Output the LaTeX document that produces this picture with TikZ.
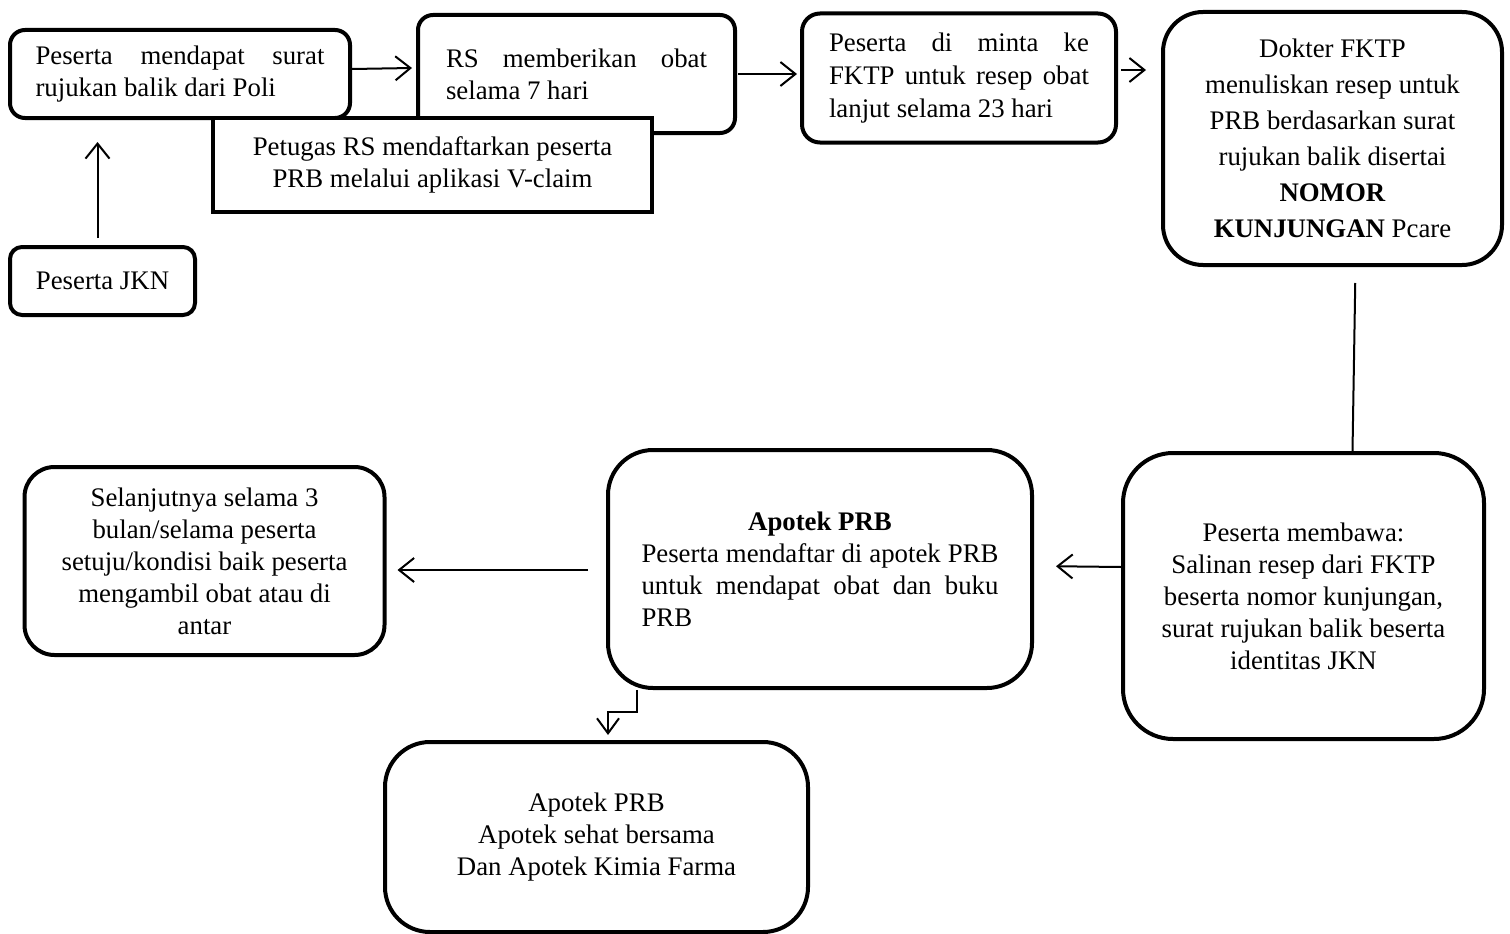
\documentclass[tikz,border=0pt]{standalone}
\usepackage{fontspec}
\setmainfont{Liberation Serif}
\usetikzlibrary{arrows.meta}
\tikzset{
  box/.style={draw, line width=4pt, fill=white, inner sep=0pt,
    font=\fontsize{26.8}{32}\selectfont},
  jbox/.style={box, align=justify, execute at begin node={\tolerance=10000\hbadness=10000\hyphenpenalty=10000\parindent=0pt}},
  conn/.style={line width=2pt},
  arr/.style={conn, -{Straight Barb[length=15pt,width=24pt,line width=2pt]}},
}
\begin{document}
\begin{tikzpicture}[x=1pt,y=-1pt]
\useasboundingbox (0,0) rectangle (1510,934);
% top row
\node[jbox, rounded corners=15pt, minimum width=340pt, minimum height=88pt, text width=289pt] (A) at (180,74)
  {Peserta mendapat surat\linebreak rujukan balik dari Poli};
\node[jbox, rounded corners=15pt, minimum width=317pt, minimum height=118pt, text width=261pt] (B) at (576.5,74)
  {RS memberikan obat\linebreak selama 7 hari};
\node[box, minimum width=439pt, minimum height=94pt, align=center] (C) at (432.5,165)
  {Petugas RS mendaftarkan peserta\\PRB melalui aplikasi V-claim};
\node[jbox, rounded corners=18pt, minimum width=314pt, minimum height=129pt, text width=260pt,
  font=\fontsize{26.8}{33}\selectfont] (D) at (959,78)
  {Peserta di minta ke\linebreak FKTP untuk resep obat\linebreak lanjut selama 23 hari};
\node[box, rounded corners=40pt, minimum width=339pt, minimum height=253pt, align=center,
  font=\fontsize{26.8}{36}\selectfont] (E) at (1332.5,138.5)
  {Dokter FKTP\\menuliskan resep untuk\\PRB berdasarkan surat\\rujukan balik disertai\\\textbf{NOMOR}\\\textbf{KUNJUNGAN} Pcare};
\node[box, rounded corners=12pt, minimum width=185pt, minimum height=68pt] (F) at (102.5,281)
  {Peserta JKN};
% bottom row
\node[box, rounded corners=50pt, minimum width=361pt, minimum height=286pt, align=center] (G) at (1303.5,596)
  {Peserta membawa:\\Salinan resep dari FKTP\\beserta nomor kunjungan,\\surat rujukan balik beserta\\identitas JKN};
\node[jbox, rounded corners=45pt, minimum width=424pt, minimum height=238pt, text width=357pt] (H) at (820,569)
  {\hfil\textbf{Apotek PRB}\hfil\break Peserta mendaftar di apotek PRB\linebreak untuk mendapat obat dan buku\linebreak PRB};
\node[box, rounded corners=30pt, minimum width=360pt, minimum height=188pt, align=center] (I) at (204.5,561)
  {Selanjutnya selama 3\\bulan/selama peserta\\setuju/kondisi baik peserta\\mengambil obat atau di\\antar};
\node[box, rounded corners=45pt, minimum width=423pt, minimum height=190pt, align=center] (J) at (596.5,837)
  {Apotek PRB\\Apotek sehat bersama\\Dan Apotek Kimia Farma};
% connectors
\draw[arr] ([yshift=5pt]A.east) -- ([yshift=6pt,xshift=-4pt]B.west);
\draw[arr] ([xshift=1pt]B.east) -- ([yshift=4pt,xshift=-3pt]D.west);
\coordinate (dE) at (1146,70);
\draw[arr] ([yshift=8pt,xshift=3pt]D.east) -- (dE);
\draw[arr, shorten <=7pt, shorten >=22pt] ([xshift=-5pt]F.north) -- ([xshift=-5pt]F.north |- A.south);
\draw[conn, shorten <=16pt] ([xshift=23pt]E.south) -- ([xshift=49pt]G.north);
\draw[arr, shorten >=22pt] ([yshift=29pt]G.west) -- ([yshift=3pt]H.east);
\draw[arr, shorten <=18pt, shorten >=11pt] ([yshift=-1pt]H.west) -- ([yshift=-9pt]I.east);
\draw[conn, -{Straight Barb[length=15pt,width=22pt,line width=2pt]}]
  ([xshift=-183pt]H.south) -- ++(0,22) -- ++(-29,0) -- ++(0,23);
\end{tikzpicture}
\end{document}
